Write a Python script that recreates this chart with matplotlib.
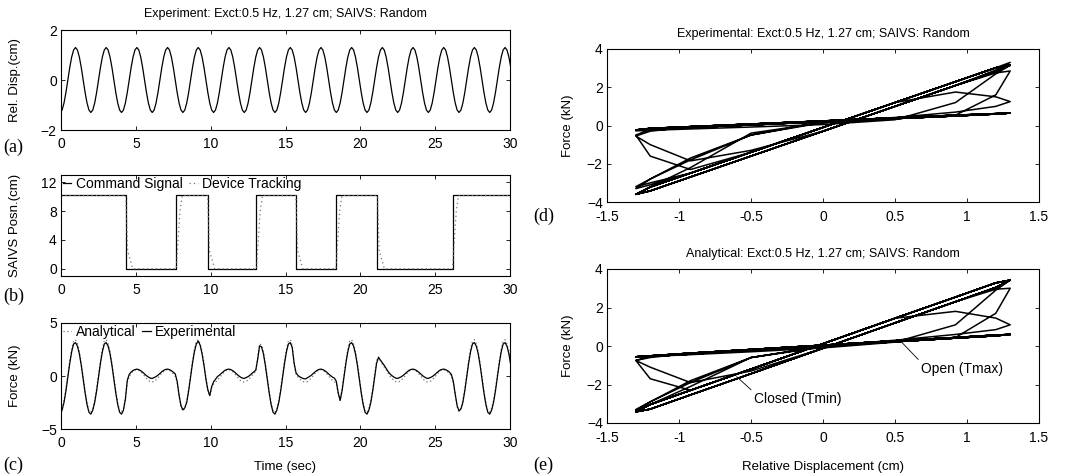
import numpy as np
import matplotlib
matplotlib.use("Agg")
import matplotlib.pyplot as plt

plt.rcParams['font.family'] = ['Liberation Sans', 'DejaVu Sans']

# ---------------- data ----------------
# sampling grid (s): first sample and spacing (16 samples per excitation cycle,
# each row below starts at a displacement trough)
t_start = -0.055
t_step = 0.128125
n_samples = 236
time = t_start + t_step * np.arange(n_samples)

# relative displacement (cm)
rel_disp = [
    -1.3, -1.2, -0.92, -0.5, 0.0, 0.5, 0.92, 1.2, 1.3, 1.2, 0.92, 0.5, 0.0, -0.5, -0.92, -1.2,
    -1.3, -1.2, -0.92, -0.5, 0.0, 0.5, 0.92, 1.2, 1.3, 1.2, 0.92, 0.5, 0.0, -0.5, -0.92, -1.2,
    -1.3, -1.2, -0.92, -0.5, 0.0, 0.5, 0.92, 1.2, 1.3, 1.2, 0.92, 0.5, 0.0, -0.5, -0.92, -1.2,
    -1.3, -1.2, -0.92, -0.5, 0.0, 0.5, 0.92, 1.2, 1.3, 1.2, 0.92, 0.5, 0.0, -0.5, -0.92, -1.2,
    -1.3, -1.2, -0.92, -0.5, 0.0, 0.5, 0.92, 1.2, 1.3, 1.2, 0.92, 0.5, 0.0, -0.5, -0.92, -1.2,
    -1.3, -1.2, -0.92, -0.5, 0.0, 0.5, 0.92, 1.2, 1.3, 1.2, 0.92, 0.5, 0.0, -0.5, -0.92, -1.2,
    -1.3, -1.2, -0.92, -0.5, 0.0, 0.5, 0.92, 1.2, 1.3, 1.2, 0.92, 0.5, 0.0, -0.5, -0.92, -1.2,
    -1.3, -1.2, -0.92, -0.5, 0.0, 0.5, 0.92, 1.2, 1.3, 1.2, 0.92, 0.5, 0.0, -0.5, -0.92, -1.2,
    -1.3, -1.2, -0.92, -0.5, 0.0, 0.5, 0.92, 1.2, 1.3, 1.2, 0.92, 0.5, 0.0, -0.5, -0.92, -1.2,
    -1.3, -1.2, -0.92, -0.5, 0.0, 0.5, 0.92, 1.2, 1.3, 1.2, 0.92, 0.5, 0.0, -0.5, -0.92, -1.2,
    -1.3, -1.2, -0.92, -0.5, 0.0, 0.5, 0.92, 1.2, 1.3, 1.2, 0.92, 0.5, 0.0, -0.5, -0.92, -1.2,
    -1.3, -1.2, -0.92, -0.5, 0.0, 0.5, 0.92, 1.2, 1.3, 1.2, 0.92, 0.5, 0.0, -0.5, -0.92, -1.2,
    -1.3, -1.2, -0.92, -0.5, 0.0, 0.5, 0.92, 1.2, 1.3, 1.2, 0.92, 0.5, 0.0, -0.5, -0.92, -1.2,
    -1.3, -1.2, -0.92, -0.5, 0.0, 0.5, 0.92, 1.2, 1.3, 1.2, 0.92, 0.5, 0.0, -0.5, -0.92, -1.2,
    -1.3, -1.2, -0.92, -0.5, 0.0, 0.5, 0.92, 1.2, 1.3, 1.2, 0.92, 0.5,
]

# experimental force (kN)
force_exp = [
    -3.6, -3.22, -2.49, -1.4, -0.1, 1.2, 2.29, 3.02, 3.15, 2.82, 2.09, 1.0, -0.3, -1.6, -2.69, -3.42,
    -3.6, -3.22, -2.49, -1.4, -0.1, 1.2, 2.29, 3.02, 3.15, 2.82, 2.09, 1.0, -0.3, -1.6, -2.69, -3.42,
    -3.6, -3.22, -2.2, -0.4, 0.15, 0.38, 0.52, 0.6, 0.65, 0.6, 0.5, 0.36, 0.2, 0.03, -0.1, -0.2,
    -0.23, -0.15, -0.06, 0.08, 0.24, 0.4, 0.54, 0.62, 0.65, 0.6, 0.5, 0.36, 0.2, -0.5, -1.8, -2.8,
    -3.2, -3.0, -2.49, -1.4, -0.1, 1.2, 2.29, 3.02, 3.3, 2.9, 2.09, 1.0, -0.3, -1.3, -1.85, -1.0,
    -0.55, -0.3, -0.06, 0.08, 0.24, 0.4, 0.54, 0.62, 0.65, 0.6, 0.5, 0.36, 0.2, 0.03, -0.1, -0.2,
    -0.23, -0.15, -0.06, 0.08, 0.24, 0.4, 0.54, 1.6, 2.85, 2.75, 2.09, 1.0, -0.3, -1.6, -2.69, -3.42,
    -3.6, -3.22, -2.49, -1.4, -0.1, 1.2, 2.29, 3.02, 3.15, 2.7, 1.2, 0.3, 0.05, -0.08, -0.18, -0.25,
    -0.28, -0.15, -0.06, 0.08, 0.24, 0.4, 0.54, 0.62, 0.65, 0.6, 0.5, 0.36, 0.2, 0.03, -0.1, -0.2,
    -0.5, -1.6, -2.3, -1.4, -0.1, 1.2, 2.29, 3.02, 3.15, 2.82, 2.09, 1.0, -0.3, -1.6, -2.69, -3.42,
    -3.6, -3.22, -2.49, -1.4, -0.1, 1.2, 1.75, 1.5, 1.25, 1.0, 0.7, 0.42, 0.2, 0.03, -0.1, -0.2,
    -0.23, -0.15, -0.06, 0.08, 0.24, 0.4, 0.54, 0.62, 0.65, 0.6, 0.5, 0.36, 0.2, 0.03, -0.1, -0.2,
    -0.23, -0.15, -0.06, 0.08, 0.24, 0.4, 0.54, 0.62, 0.65, 0.6, 0.5, 0.36, 0.15, -0.5, -1.7, -2.8,
    -3.3, -3.1, -2.49, -1.4, -0.1, 1.2, 2.29, 3.02, 3.15, 2.82, 2.09, 1.0, -0.3, -1.6, -2.69, -3.42,
    -3.6, -3.22, -2.49, -1.4, -0.1, 1.2, 2.29, 3.02, 3.15, 2.82, 2.09, 1.0,
]

# analytical force (kN)
force_ana = [
    -3.42, -3.04, -2.3, -1.2, 0.12, 1.44, 2.54, 3.28, 3.42, 3.04, 2.3, 1.2, -0.12, -1.44, -2.54, -3.28,
    -3.42, -3.04, -2.3, -1.2, 0.12, 1.44, 2.54, 3.28, 3.42, 3.04, 2.3, 1.2, -0.12, -1.44, -2.54, -3.28,
    -3.42, -3.04, -2.1, -0.6, -0.05, 0.25, 0.44, 0.57, 0.6, 0.53, 0.41, 0.22, -0.01, -0.23, -0.42, -0.54,
    -0.56, -0.51, -0.37, -0.18, 0.05, 0.27, 0.44, 0.57, 0.6, 0.53, 0.41, 0.22, -0.01, -0.6, -1.9, -2.9,
    -3.3, -3.04, -2.3, -1.2, 0.12, 1.44, 2.54, 3.28, 3.42, 3.04, 2.3, 1.2, -0.12, -1.3, -1.9, -1.1,
    -0.75, -0.6, -0.37, -0.18, 0.05, 0.27, 0.44, 0.57, 0.6, 0.53, 0.41, 0.22, -0.01, -0.23, -0.42, -0.54,
    -0.56, -0.51, -0.37, -0.18, 0.05, 0.27, 0.44, 1.7, 3.0, 2.95, 2.3, 1.2, -0.12, -1.44, -2.54, -3.28,
    -3.42, -3.04, -2.3, -1.2, 0.12, 1.44, 2.54, 3.28, 3.42, 2.9, 1.1, 0.2, -0.1, -0.3, -0.45, -0.54,
    -0.56, -0.51, -0.37, -0.18, 0.05, 0.27, 0.44, 0.57, 0.6, 0.53, 0.41, 0.22, -0.01, -0.23, -0.42, -0.54,
    -0.75, -1.7, -2.3, -1.2, 0.12, 1.44, 2.54, 3.28, 3.42, 3.04, 2.3, 1.2, -0.12, -1.44, -2.54, -3.28,
    -3.42, -3.04, -2.3, -1.2, 0.12, 1.44, 1.8, 1.45, 1.1, 0.85, 0.6, 0.3, 0.0, -0.23, -0.42, -0.54,
    -0.56, -0.51, -0.37, -0.18, 0.05, 0.27, 0.44, 0.57, 0.6, 0.53, 0.41, 0.22, -0.01, -0.23, -0.42, -0.54,
    -0.56, -0.51, -0.37, -0.18, 0.05, 0.27, 0.44, 0.57, 0.6, 0.53, 0.41, 0.22, -0.01, -0.6, -1.8, -2.9,
    -3.35, -3.04, -2.3, -1.2, 0.12, 1.44, 2.54, 3.28, 3.42, 3.04, 2.3, 1.2, -0.12, -1.44, -2.54, -3.28,
    -3.42, -3.04, -2.3, -1.2, 0.12, 1.44, 2.54, 3.28, 3.42, 3.04, 2.3, 1.2,
]

# SAIVS command signal (switch times, s) and positions (cm)
cmd_time = [0, 4.33, 7.70, 9.80, 13.06, 15.69, 18.37, 21.14, 26.16, 30]
cmd_posn = [10.16, 0, 10.16, 0, 10.16, 0, 10.16, 0, 10.16, 10.16]

# device tracking (vertex times, s; positions, cm)
trk_time = [0, 4.33, 4.45, 4.80, 7.70, 7.95, 8.10, 9.80, 9.92, 10.27,
            13.06, 13.31, 13.46, 15.69, 15.81, 16.16, 18.37, 18.62, 18.77,
            21.14, 21.26, 21.61, 26.16, 26.41, 26.56, 30]
trk_posn = [10.16, 10.16, 2.5, 0, 0, 8.0, 10.16, 10.16, 2.5, 0,
            0, 8.0, 10.16, 10.16, 2.5, 0, 0, 8.0, 10.16,
            10.16, 2.5, 0, 0, 8.0, 10.16, 10.16]

title_sub = "Exct:0.5 Hz, 1.27 cm; SAIVS: Random"

# ---------------- figure ----------------
W, H = 1086, 475
fig = plt.figure(figsize=(W / 100, H / 100), dpi=100)


def add_ax(l, r, t, b):
    return fig.add_axes([l / W, 1 - b / H, (r - l) / W, (b - t) / H])


def style(ax, xpad=5):
    ax.tick_params(direction='in', top=True, right=True, labelsize=10,
                   length=3, width=0.6)
    ax.tick_params(axis='x', pad=xpad)
    ax.tick_params(axis='y', pad=3)
    for s in ax.spines.values():
        s.set_linewidth(0.8)


serif = dict(family=['Liberation Serif', 'DejaVu Serif'], fontsize=13)
tfs = 9.5
ttl = 9
left_lab_x = (21 - 61) / 449
right_lab_x = (574 - 607) / 432

# (a)
axa = add_ax(61, 510, 30, 130)
axa.plot(time, rel_disp, color='black', lw=0.9)
axa.set_xlim(0, 30)
axa.set_ylim(-2, 2)
axa.set_yticks([-2, 0, 2])
axa.set_xticks(range(0, 31, 5))
axa.set_ylabel("Rel. Disp.(cm)", fontsize=tfs)
axa.yaxis.set_label_coords(left_lab_x, 0.5)
axa.set_title("Experiment: " + title_sub, fontsize=ttl, pad=9)
style(axa)

# (b)
axb = add_ax(61, 510, 175, 276)
axb.plot(cmd_time, cmd_posn, drawstyle='steps-post', color='black', lw=0.9,
         label='Command Signal')
axb.plot(trk_time, trk_posn, color='0.45', lw=0.9, ls=(0, (1, 2.5)),
         label='Device Tracking')
axb.set_xlim(0, 30)
axb.set_ylim(-1, 13)
axb.set_yticks([0, 4, 8, 12])
axb.set_xticks(range(0, 31, 5))
axb.set_ylabel("SAIVS Posn.(cm)", fontsize=tfs)
axb.yaxis.set_label_coords(left_lab_x, 0.5)
style(axb)
axb.legend(loc='upper left', ncol=2, frameon=False, fontsize=10,
           handlelength=0.6, handletextpad=0.3, columnspacing=0.5,
           borderaxespad=0.0, borderpad=0.15)

# (c)
axc = add_ax(61, 510, 323, 429)
axc.plot(time, force_ana, color='0.45', lw=0.9, ls=(0, (1, 2)),
         label='Analytical')
axc.plot(time, force_exp, color='black', lw=0.9, label='Experimental')
axc.set_xlim(0, 30)
axc.set_ylim(-5, 5)
axc.set_yticks([-5, 0, 5])
axc.set_xticks(range(0, 31, 5))
axc.set_ylabel("Force (kN)", fontsize=tfs)
axc.yaxis.set_label_coords(left_lab_x, 0.5)
axc.set_xlabel("Time (sec)", fontsize=tfs, labelpad=8)
style(axc)
axc.legend(loc='upper left', ncol=2, frameon=False, fontsize=10,
           handlelength=0.6, handletextpad=0.3, columnspacing=0.5,
           borderaxespad=0.0, borderpad=0.15)

# (d)
axd = add_ax(607, 1039, 49, 202)
axd.plot(rel_disp, force_exp, color='black', lw=1.1)
axd.set_xlim(-1.5, 1.5)
axd.set_ylim(-4, 4)
axd.set_xticks([-1.5, -1, -0.5, 0, 0.5, 1, 1.5])
axd.set_xticklabels(['-1.5', '-1', '-0.5', '0', '0.5', '1', '1.5'])
axd.set_yticks([-4, -2, 0, 2, 4])
axd.set_ylabel("Force (kN)", fontsize=tfs)
axd.yaxis.set_label_coords(right_lab_x, 0.5)
axd.set_title("Experimental: " + title_sub, fontsize=ttl, pad=9)
style(axd, xpad=6)

# (e)
axe = add_ax(607, 1039, 269, 423)
axe.plot(rel_disp, force_ana, color='black', lw=1.1)
axe.set_xlim(-1.5, 1.5)
axe.set_ylim(-4, 4)
axe.set_xticks([-1.5, -1, -0.5, 0, 0.5, 1, 1.5])
axe.set_xticklabels(['-1.5', '-1', '-0.5', '0', '0.5', '1', '1.5'])
axe.set_yticks([-4, -2, 0, 2, 4])
axe.set_ylabel("Force (kN)", fontsize=tfs)
axe.yaxis.set_label_coords(right_lab_x, 0.5)
axe.set_xlabel("Relative Displacement (cm)", fontsize=tfs, labelpad=11)
axe.set_title("Analytical: " + title_sub, fontsize=ttl, pad=9)
style(axe, xpad=6)
axe.annotate("Open (Tmax)", xy=(0.55, 0.17), xytext=(0.68, -1.21),
             fontsize=10, va='center', ha='left',
             arrowprops=dict(arrowstyle='-', lw=0.6, color='black',
                             shrinkA=0, shrinkB=0, relpos=(0, 1)))
axe.annotate("Closed (Tmin)", xy=(-0.60, -1.59), xytext=(-0.48, -2.77),
             fontsize=10, va='center', ha='left',
             arrowprops=dict(arrowstyle='-', lw=0.6, color='black',
                             shrinkA=0, shrinkB=0, relpos=(0, 1)))

# panel letters
fig.text(3 / W, 1 - 147 / H, "(a)", va='center', ha='left', **serif)
fig.text(3 / W, 1 - 296 / H, "(b)", va='center', ha='left', **serif)
fig.text(3 / W, 1 - 465 / H, "(c)", va='center', ha='left', **serif)
fig.text(533 / W, 1 - 216 / H, "(d)", va='center', ha='left', **serif)
fig.text(533 / W, 1 - 465 / H, "(e)", va='center', ha='left', **serif)

fig.savefig("out.png", dpi=100)
